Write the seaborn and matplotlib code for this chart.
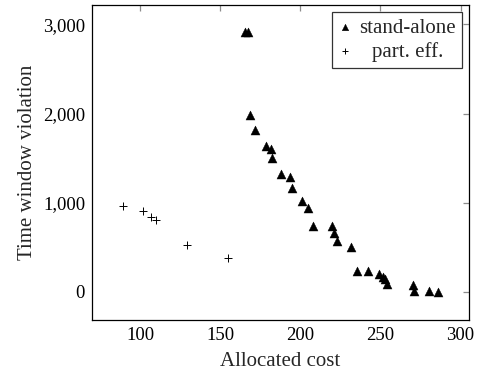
import matplotlib
matplotlib.use("Agg")
import matplotlib.pyplot as plt
from matplotlib.ticker import FuncFormatter
from matplotlib.transforms import ScaledTranslation
import pandas as pd
import seaborn as sns

# Stand-alone allocation results
standalone_cost = [165.7, 167.1, 168.9, 171.8, 178.9, 181.8, 182.6, 188.2, 193.8,
                   194.8, 201.1, 205.1, 207.9, 219.7, 221.2, 223.1, 231.8, 235.3,
                   242.4, 249.0, 251.5, 252.7, 254.0, 270.2, 270.8, 280.6, 286.0]
standalone_violation = [2920, 2920, 1985, 1816, 1637, 1600, 1500, 1323, 1288,
                        1163, 1025, 944, 742, 740, 658, 577, 503, 230,
                        230, 202, 166, 143, 88, 78, 10, 10, 0]

# Partially efficient allocation results
parteff_cost = [89.6, 101.7, 106.7, 110.0, 129.5, 155.0]
parteff_violation = [965, 912, 845, 808, 528, 386]

x_ticks = [100, 150, 200, 250, 300]
y_ticks = [0, 1000, 2000, 3000]

df_sa = pd.DataFrame({"cost": standalone_cost, "violation": standalone_violation})
df_pe = pd.DataFrame({"cost": parteff_cost, "violation": parteff_violation})

sns.set_theme(style="white")
plt.rcParams["font.family"] = ["Liberation Serif", "DejaVu Serif"]

W, H = 485, 378
fig = plt.figure(figsize=(W / 100, H / 100), dpi=100)
ax = fig.add_axes([92 / W, 1 - 320 / H, (469 - 92) / W, (320 - 5) / H])

sns.scatterplot(data=df_sa, x="cost", y="violation", marker="^", s=42,
                color="black", edgecolor="black", linewidth=0.3,
                label="stand-alone", ax=ax)
sns.scatterplot(data=df_pe, x="cost", y="violation", marker="+", s=36,
                color="black", linewidth=0.7, label="part. eff.", ax=ax)

ax.set_xlim(70, 305.3)
ax.set_ylim(-314, 3218)
ax.set_xticks(x_ticks)
ax.set_yticks(y_ticks)
ax.yaxis.set_major_formatter(FuncFormatter(lambda v, p: f"{int(v):,}"))

ax.set_xlabel("Allocated cost", fontsize=15, labelpad=6)
ax.set_ylabel("Time window violation", fontsize=15, labelpad=4)

for s in ax.spines.values():
    s.set_color("black")
    s.set_linewidth(0.9)
    s.set_visible(True)

ax.tick_params(axis="both", which="major", direction="in", length=4.5, width=0.9,
               color="#8c8c8c", top=True, right=True, labelsize=13.5,
               labelcolor="black")
ax.tick_params(axis="x", pad=5)
ax.tick_params(axis="y", pad=5)

leg = ax.legend(loc="upper right", bbox_to_anchor=(0.982, 0.978), fontsize=15,
                frameon=True, fancybox=False, edgecolor="black",
                handlelength=0.6, handletextpad=0.4, borderpad=0.3,
                labelspacing=0.2, borderaxespad=0)
leg.get_frame().set_linewidth(0.9)
for h in leg.legend_handles:
    h.set_sizes([22])

# Centre the legend labels within their column
renderer = fig.canvas.get_renderer()
texts = leg.get_texts()
widths = [t.get_window_extent(renderer).width for t in texts]
wmax = max(widths)
for t, w in zip(texts, widths):
    dx = (wmax - w) / 2 / fig.dpi
    t.set_transform(t.get_transform() + ScaledTranslation(dx, 0, fig.dpi_scale_trans))

fig.savefig("out.png", dpi=100)
